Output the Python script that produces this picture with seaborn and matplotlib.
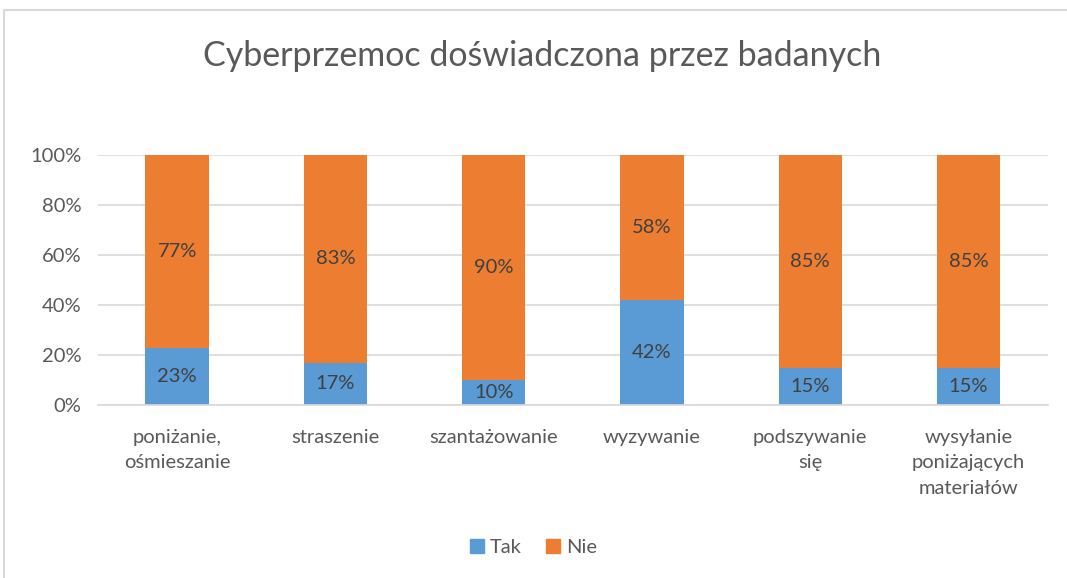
import pandas as pd
import matplotlib.pyplot as plt
import matplotlib.patches as mpatches
import seaborn as sns

# Dane z wykresu
kategorie = [
    "poniżanie,\nośmieszanie",
    "straszenie",
    "szantażowanie",
    "wyzywanie",
    "podszywanie\nsię",
    "wysyłanie\nponiżających\nmateriałów",
]
tak = [23, 17, 10, 42, 15, 15]
nie = [77, 83, 90, 58, 85, 85]
serie = ["Tak", "Nie"]
kolory = ["#5B9BD5", "#ED7D31"]

df = pd.DataFrame({"Kategoria": kategorie, "Tak": tak, "Nie": nie})

sns.set_theme(style="white")
plt.rcParams["font.family"] = ["Lato", "DejaVu Sans"]
tekst = "#595959"

fig = plt.figure(figsize=(10.67, 5.78), dpi=100)
ax = fig.add_axes([0.0918, 0.299, 0.890, 0.433])

sns.barplot(ax=ax, data=df, x="Kategoria", y="Tak", color=kolory[0],
            width=0.4, saturation=1, linewidth=0, label="Tak")
sns.barplot(ax=ax, data=df, x="Kategoria", y="Nie", bottom=df["Tak"],
            color=kolory[1], width=0.4, saturation=1, linewidth=0, label="Nie")

# Etykiety danych
for i, (t, n) in enumerate(zip(tak, nie)):
    ax.text(i, t / 2, f"{t}%", ha="center", va="center", fontsize=14.5, color="#404040")
    ax.text(i, t + n / 2, f"{n}%", ha="center", va="center", fontsize=14.5, color="#404040")

ax.set_ylim(0, 100)
ax.set_xlim(-0.5, 5.5)
ax.set_yticks(range(0, 101, 20))
ax.set_yticklabels([f"{v}%" for v in range(0, 101, 20)])
ax.yaxis.grid(True, color="#D9D9D9", linewidth=1.2)
ax.set_axisbelow(True)
for s in ["top", "right", "left"]:
    ax.spines[s].set_visible(False)
ax.spines["bottom"].set_color("#D9D9D9")
ax.spines["bottom"].set_linewidth(1.2)
ax.tick_params(axis="both", length=0, labelsize=14.5, colors=tekst)
ax.tick_params(axis="y", pad=12)
ax.tick_params(axis="x", pad=17)
for lab in ax.get_xticklabels():
    lab.set_linespacing(1.6)
ax.set_xlabel("")
ax.set_ylabel("")

fig.suptitle("Cyberprzemoc doświadczona przez badanych", fontsize=24.5,
             color=tekst, y=0.93, x=0.508)

uchwyty = [mpatches.Patch(color=c, label=s) for c, s in zip(kolory, serie)]
ax.legend(handles=uchwyty, loc="center", bbox_to_anchor=(0.5, 0.0535),
          bbox_transform=fig.transFigure, ncol=2, frameon=False, fontsize=14.5,
          labelcolor=tekst, handlelength=0.7, handleheight=0.7,
          handletextpad=0.3, columnspacing=1.2)

# Ramka wykresu
fig.patches.append(mpatches.Rectangle((4 / 1067, -0.05), 1.2, 1.05 - 10 / 578,
                                      transform=fig.transFigure, fill=False,
                                      edgecolor="#D9D9D9", linewidth=1.5))

fig.savefig("out.png", dpi=100)
